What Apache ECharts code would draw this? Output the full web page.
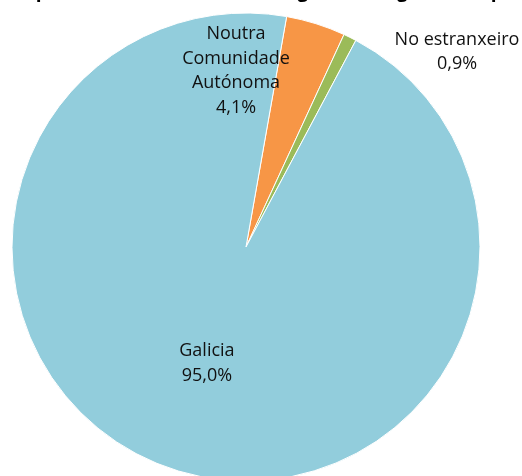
<!DOCTYPE html>
<html>
<head>
<meta charset="utf-8">
<script src="https://cdn.jsdelivr.net/npm/echarts@6/dist/echarts.min.js"></script>
<style>html,body{margin:0;padding:0;background:#fff}#c{width:522px;height:476px}</style>
</head>
<body>
<div id="c"></div>
<script>
var titleText = 'Figura 3. Ocupados de Galicia en 2013, segundo o lugar de emprego actual';
var categories = ['Noutra\nComunidade\nAutónoma', 'No estranxeiro', 'Galicia'];
var values = [4.1, 0.9, 95.0];
var colors = ['#F79646', '#9BBB59', '#92CDDC'];

var chart = echarts.init(document.getElementById('c'), null, {renderer: 'canvas'});
var fmt = function (p) { return p.name + '\n' + p.value.toFixed(1).replace('.', ',') + '%'; };
chart.setOption({
  animation: false,
  backgroundColor: '#ffffff',
  title: {
    text: titleText,
    left: 'center',
    top: -22.5,
    textStyle: {fontFamily: 'Open Sans', fontWeight: 'bold', fontSize: 19, color: '#000'}
  },
  series: [{
    type: 'pie',
    center: [246, 247],
    radius: [0, 234],
    startAngle: 80,
    clockwise: true,
    avoidLabelOverlap: false,
    itemStyle: {borderColor: '#ffffff', borderWidth: 1},
    label: {
      show: true,
      position: 'inside',
      formatter: fmt,
      fontFamily: 'Open Sans',
      fontSize: 18,
      lineHeight: 24.5,
      color: '#111',
      align: 'center'
    },
    labelLine: {show: false},
    labelLayout: function (p) {
      if (p.dataIndex === 0) return {x: 236, y: 71, align: 'center', verticalAlign: 'middle'};
      if (p.dataIndex === 1) return {x: 457, y: 52, align: 'center', verticalAlign: 'middle'};
      return {dy: 3};
    },
    data: categories.map(function (c, i) {
      return {name: c, value: values[i], itemStyle: {color: colors[i]}};
    })
  }]
});
</script>
</body>
</html>
